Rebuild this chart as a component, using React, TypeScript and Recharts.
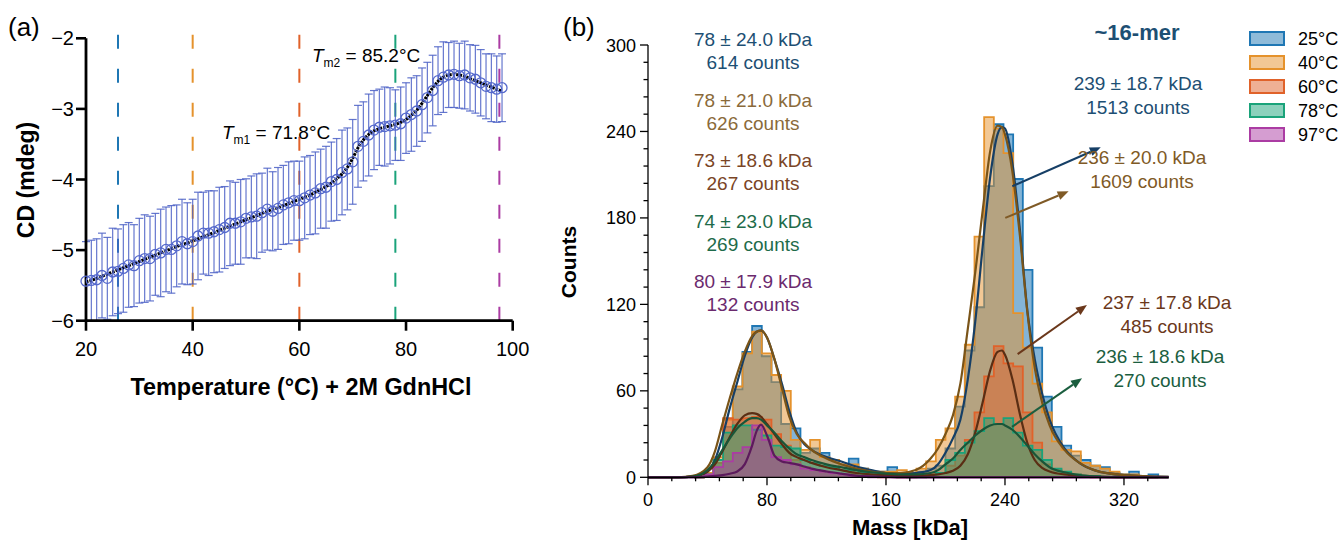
import React from 'react';
import { ComposedChart, Line, Area, XAxis, YAxis, ErrorBar, ReferenceLine } from 'recharts';

const FONT = '"Liberation Sans", Arial, Helvetica, sans-serif';

// ---------- panel (a): CD melt ----------
const temps = [20, 21, 22, 23, 24, 25, 26, 27, 28, 29, 30, 31, 32, 33, 34, 35, 36, 37, 38, 39, 40, 41, 42, 43, 44, 45, 46, 47, 48, 49, 50, 51, 52, 53, 54, 55, 56, 57, 58, 59, 60, 61, 62, 63, 64, 65, 66, 67, 68, 69, 70, 71, 72, 73, 74, 75, 76, 77, 78, 79, 80, 81, 82, 83, 84, 85, 86, 87, 88, 89, 90, 91, 92, 93, 94, 95, 96, 97, 98];
const cdValues = [-5.44, -5.43, -5.42, -5.36, -5.4, -5.31, -5.3, -5.26, -5.21, -5.22, -5.15, -5.12, -5.12, -5.06, -5.04, -4.99, -4.99, -4.94, -4.88, -4.91, -4.88, -4.8, -4.76, -4.76, -4.74, -4.71, -4.68, -4.62, -4.62, -4.6, -4.55, -4.53, -4.52, -4.47, -4.42, -4.45, -4.41, -4.36, -4.33, -4.3, -4.3, -4.26, -4.22, -4.19, -4.13, -4.11, -4.03, -4.0, -3.9, -3.85, -3.75, -3.53, -3.46, -3.37, -3.3, -3.26, -3.25, -3.24, -3.23, -3.21, -3.13, -3.08, -3.03, -2.94, -2.84, -2.74, -2.6, -2.55, -2.52, -2.51, -2.53, -2.52, -2.56, -2.58, -2.63, -2.68, -2.7, -2.72, -2.7];
const cdErrors = [0.56, 0.57, 0.58, 0.6, 0.58, 0.62, 0.6, 0.62, 0.6, 0.58, 0.6, 0.62, 0.6, 0.58, 0.62, 0.6, 0.62, 0.58, 0.6, 0.58, 0.6, 0.62, 0.58, 0.6, 0.58, 0.6, 0.58, 0.6, 0.58, 0.6, 0.56, 0.58, 0.6, 0.56, 0.58, 0.56, 0.58, 0.56, 0.58, 0.56, 0.56, 0.58, 0.56, 0.58, 0.56, 0.58, 0.56, 0.58, 0.6, 0.58, 0.6, 0.58, 0.56, 0.58, 0.56, 0.54, 0.56, 0.54, 0.5, 0.52, 0.5, 0.52, 0.5, 0.52, 0.5, 0.5, 0.48, 0.5, 0.46, 0.47, 0.46, 0.48, 0.47, 0.48, 0.47, 0.46, 0.48, 0.47, 0.48];
const cdFit = [-5.45, -5.43, -5.4, -5.37, -5.34, -5.31, -5.28, -5.25, -5.22, -5.19, -5.16, -5.13, -5.1, -5.07, -5.04, -5.01, -4.98, -4.95, -4.92, -4.9, -4.87, -4.84, -4.81, -4.78, -4.75, -4.72, -4.69, -4.66, -4.63, -4.6, -4.57, -4.54, -4.51, -4.48, -4.45, -4.42, -4.4, -4.37, -4.34, -4.31, -4.28, -4.25, -4.22, -4.18, -4.14, -4.1, -4.05, -3.99, -3.92, -3.83, -3.7, -3.55, -3.44, -3.36, -3.31, -3.28, -3.26, -3.24, -3.22, -3.19, -3.15, -3.09, -3.02, -2.92, -2.81, -2.7, -2.61, -2.55, -2.52, -2.51, -2.52, -2.54, -2.57, -2.6, -2.63, -2.66, -2.69, -2.72, -2.75];
const tempTicks = [20, 40, 60, 80, 100];
const cdTicks = [-6, -5, -4, -3, -2];
const markerTemps = [26, 40, 60, 78, 97.5];

// ---------- panel (b): mass photometry ----------
const seriesNames = ['25°C', '40°C', '60°C', '78°C', '97°C'];
const seriesColors = ['#1f77b4', '#e5922c', '#e0622a', '#1aa37a', '#ab3ca3'];
const fitColors = ['#163f66', '#7a5418', '#5a2e14', '#1a5538', '#5c1a5c'];

const binEdges = [31, 37.5, 44, 50.5, 57, 63.5, 70, 76.5, 83, 89.5, 96, 102.5, 109, 115.5, 122, 128.5, 135, 141.5, 148, 154.5, 161, 167.5, 174, 180.5, 187, 193.5, 200, 206.5, 213, 219.5, 226, 232.5, 239, 245.5, 252, 258.5, 265, 271.5, 278, 284.5, 291, 297.5, 304, 310.5, 317, 323.5, 330, 336.5, 343];
const c25 = [0, 2, 10, 35, 61, 87, 105, 84, 66, 37, 34, 17, 20, 17, 12, 8, 13, 6, 4, 4, 7, 3, 2, 4, 6, 8, 20, 49, 88, 118, 202, 245, 238, 207, 144, 90, 56, 35, 22, 15, 12, 8, 7, 3, 2, 4, 1, 2, 0];
const c40 = [0, 3, 14, 40, 63, 86, 101, 86, 71, 60, 26, 19, 26, 14, 12, 9, 9, 6, 4, 4, 4, 5, 3, 6, 11, 26, 34, 56, 92, 167, 250, 242, 225, 114, 90, 65, 45, 25, 19, 18, 10, 8, 6, 4, 2, 2, 1, 0, 0];
const c60 = [0, 1, 10, 41, 40, 41, 42, 40, 30, 22, 12, 7, 5, 4, 3, 2, 2, 1, 1, 0, 1, 0, 0, 1, 2, 3, 8, 15, 26, 45, 70, 91, 79, 77, 45, 24, 9, 5, 3, 2, 1, 0, 0, 0, 0, 0, 0, 0, 0];
const c78 = [0, 2, 12, 31, 36, 36, 33, 29, 22, 21, 20, 12, 10, 8, 7, 5, 5, 3, 2, 1, 1, 1, 0, 0, 1, 3, 12, 17, 24, 32, 41, 37, 41, 31, 22, 19, 12, 6, 4, 2, 1, 1, 0, 0, 0, 0, 0, 0, 0];
const c97 = [0, 2, 7, 11, 17, 21, 36, 26, 14, 12, 9, 6, 5, 4, 3, 2, 1, 1, 0, 0, 0, 0, 0, 0, 0, 0, 0, 0, 0, 0, 0, 0, 0, 0, 0, 0, 0, 0, 0, 0, 0, 0, 0, 0, 0, 0, 0, 0, 0];

const fitMass = [0, 20, 30, 40, 45, 50, 55, 60, 65, 70, 73, 76, 80, 85, 90, 95, 100, 105, 110, 120, 130, 140, 150, 160, 170, 180, 190, 195, 200, 205, 210, 215, 220, 225, 230, 235, 238, 240, 245, 250, 255, 260, 265, 270, 280, 290, 300, 320, 350];
const f25 = [0, 0, 0.5, 4, 12, 28, 48, 66, 84, 97, 101, 102, 97, 82, 65, 46, 31, 23, 19, 14, 11, 7.5, 5, 3, 2.5, 3, 5, 9, 17, 27, 40, 68, 108, 160, 208, 238, 243, 242, 218, 172, 116, 82, 58, 40, 20, 10, 5, 1.5, 0.3];
const f40 = [0, 0, 1, 7, 18, 37, 55, 72, 87, 98, 101, 102, 97, 82, 62, 42, 30, 24, 19, 13, 9, 6, 4, 3, 3, 5, 13, 20, 30, 43, 65, 103, 142, 185, 226, 244, 243, 238, 212, 168, 115, 76, 52, 36, 19, 10, 5, 1.5, 0.3];
const f60 = [0, 0, 0.5, 4, 9, 18, 28, 37, 43, 44.5, 44, 42, 37, 30, 23, 17, 14, 12, 10, 7, 5, 3, 2, 1.5, 1, 1, 1.5, 2, 3, 4.5, 8, 16, 31, 52, 74, 87, 88, 85, 68, 44, 24, 12, 6.5, 4, 2, 1, 0.5, 0, 0];
const f78 = [0, 0, 0.5, 5, 11, 19, 27, 34, 38.5, 41, 41, 40, 36, 31, 25, 20, 16, 14, 12, 9, 7, 5, 3.5, 2.5, 2, 2, 3, 5, 9, 13, 19, 24, 29, 33, 36, 37, 37, 36, 33, 28, 22, 16, 11, 7, 3.5, 1.5, 0.7, 0.2, 0];
const f97 = [0, 0, 0, 0.5, 1, 1.5, 2.5, 4, 9, 22, 32, 36.5, 29, 15, 11, 10, 9, 7.5, 6, 4, 2.5, 1.2, 0.6, 0.3, 0, 0, 0, 0, 0, 0, 0, 0, 0, 0, 0, 0, 0, 0, 0, 0, 0, 0, 0, 0, 0, 0, 0, 0, 0];

const massTicks = [0, 16, 32, 48, 64, 80, 96, 112, 128, 144, 160, 176, 192, 208, 224, 240, 256, 272, 288, 304, 320, 336];
const massLabels = [0, 80, 160, 240, 320];
const countTicks = [0, 12, 24, 36, 48, 60, 72, 84, 96, 108, 120, 132, 144, 156, 168, 180, 192, 204, 216, 228, 240, 252, 264, 276, 288, 300];
const countLabels = [0, 60, 120, 180, 240, 300];

// arrows (kDa, counts) from peak to label
const arrows = [
  { x1: 244.9, y1: 202, x2: 304.4, y2: 229, color: '#163f66' },
  { x1: 240.2, y1: 180, x2: 282.8, y2: 198.5, color: '#7f5a26' },
  { x1: 248.5, y1: 85.5, x2: 295.1, y2: 119.5, color: '#6b381b' },
  { x1: 244.7, y1: 35, x2: 291.8, y2: 68.7, color: '#1b5e3f' },
];

const leftStats = [
  { a: '78 ± 24.0 kDa', b: '614 counts', color: '#1d4f73' },
  { a: '78 ± 21.0 kDa', b: '626 counts', color: '#8a6a3a' },
  { a: '73 ± 18.6 kDa', b: '267 counts', color: '#7a4526' },
  { a: '74 ± 23.0 kDa', b: '269 counts', color: '#1e6b4a' },
  { a: '80 ± 17.9 kDa', b: '132 counts', color: '#6b2a6e' },
];
const rightStats = [
  { a: '239 ± 18.7 kDa', b: '1513 counts', color: '#1d4f73', x: 1138, y: 83 },
  { a: '236 ± 20.0 kDa', b: '1609 counts', color: '#7f5a26', x: 1142, y: 157 },
  { a: '237 ± 17.8 kDa', b: '485 counts', color: '#6b381b', x: 1167, y: 302 },
  { a: '236 ± 18.6 kDa', b: '270 counts', color: '#1b5e3f', x: 1160, y: 356 },
];

const cdRows = temps.map((t, i) => ({ t, cd: cdValues[i], err: cdErrors[i], fit: cdFit[i] }));
const histRows = binEdges.map((m, i) => ({ m, c25: c25[i], c40: c40[i], c60: c60[i], c78: c78[i], c97: c97[i] }));
const fitRows = fitMass.map((m, i) => ({ m, f25: f25[i], f40: f40[i], f60: f60[i], f78: f78[i], f97: f97[i] }));
const histKeys = ['c25', 'c40', 'c60', 'c78', 'c97'];
const fitKeys = ['f25', 'f40', 'f60', 'f78', 'f97'];
const fillOpacity = [0.55, 0.5, 0.5, 0.45, 0.45];

const minus = (v: number) => (v < 0 ? '\u2212' + Math.abs(v) : String(v));

const TickAX = (p: any) => (
  <g>
    <line x1={p.x} x2={p.x} y1={p.y} y2={p.y + 10} stroke="#000" strokeWidth={2.6} />
    <text x={p.x} y={p.y + 35} textAnchor="middle" fontSize={20} fontFamily={FONT} fill="#000">{p.payload.value}</text>
  </g>
);
const TickAY = (p: any) => (
  <g>
    <line x1={p.x - 10} x2={p.x} y1={p.y} y2={p.y} stroke="#000" strokeWidth={2.6} />
    <text x={p.x - 12} y={p.y + 7} textAnchor="end" fontSize={20} fontFamily={FONT} fill="#000">{minus(p.payload.value)}</text>
  </g>
);
const TickBX = (p: any) => {
  const major = massLabels.includes(p.payload.value);
  return (
    <g>
      <line x1={p.x} x2={p.x} y1={p.y} y2={p.y + (major ? 8 : 4)} stroke="#000" strokeWidth={1.3} />
      {major && <text x={p.x} y={p.y + 29} textAnchor="middle" fontSize={18} fontFamily={FONT} fill="#000">{p.payload.value}</text>}
    </g>
  );
};
const TickBY = (p: any) => {
  const major = countLabels.includes(p.payload.value);
  return (
    <g>
      <line x1={p.x - (major ? 8 : 4.5)} x2={p.x} y1={p.y} y2={p.y} stroke="#000" strokeWidth={1.3} />
      {major && <text x={p.x - 12} y={p.y + 6.5} textAnchor="end" fontSize={18} fontFamily={FONT} fill="#000">{p.payload.value}</text>}
    </g>
  );
};

const arrowShape = (color: string) => (p: any) => {
  const x1 = Number(p.x1), y1 = Number(p.y1), x2 = Number(p.x2), y2 = Number(p.y2);
  const ang = Math.atan2(y2 - y1, x2 - x1);
  const L = 11, W = 4.5;
  const bx = x2 - L * Math.cos(ang), by = y2 - L * Math.sin(ang);
  const pts = `${x2},${y2} ${bx - W * Math.sin(ang)},${by + W * Math.cos(ang)} ${bx + W * Math.sin(ang)},${by - W * Math.cos(ang)}`;
  return (
    <g>
      <line x1={x1} y1={y1} x2={bx} y2={by} stroke={color} strokeWidth={2} />
      <polygon points={pts} fill={color} />
    </g>
  );
};

const CircleDot = (p: any) => (
  <circle key={p.index} cx={p.cx} cy={p.cy} r={5} fill="none" stroke="#5468cc" strokeWidth={1.3} />
);

export default function App() {
  return (
    <div style={{ position: 'absolute', left: 0, top: 0, width: 1339, height: 544, background: '#fff', fontFamily: FONT }}>
      <div style={{ position: 'absolute', left: 0, top: 0 }}>
        <ComposedChart width={540} height={420} data={cdRows} margin={{ top: 38.3, right: 27.3, bottom: 59.3, left: 0 }}>
          <XAxis type="number" dataKey="t" domain={[20, 100]} ticks={tempTicks} interval={0} height={40}
            tickSize={0} tickMargin={0} tickLine={false} axisLine={{ stroke: '#000', strokeWidth: 2.8 }} tick={TickAX} />
          <YAxis type="number" domain={[-6, -2]} ticks={cdTicks} interval={0} width={86}
            tickSize={0} tickMargin={0} tickLine={false} axisLine={{ stroke: '#000', strokeWidth: 2.8 }} tick={TickAY} />
          {markerTemps.map((t, i) => (
            <ReferenceLine key={t} segment={[{ x: t, y: -6 }, { x: t, y: -1.9 }]} ifOverflow="visible"
              stroke={seriesColors[i]} strokeWidth={2} strokeDasharray="14 20" />
          ))}
          <Line dataKey="cd" stroke="none" dot={CircleDot} activeDot={false} isAnimationActive={false}>
            <ErrorBar dataKey="err" direction="y" width={4} stroke="#4a5fc5" strokeWidth={1.2} strokeOpacity={0.85} isAnimationActive={false} />
          </Line>
          <Line dataKey="fit" type="monotone" stroke="#000" strokeWidth={3} strokeDasharray="2.5 1" dot={false} activeDot={false} isAnimationActive={false} />
        </ComposedChart>
      </div>

      <div style={{ position: 'absolute', left: 560, top: 0 }}>
        <ComposedChart width={779} height={544} data={histRows} margin={{ top: 45, right: 170.4, bottom: 26.7, left: 0 }}>
          <XAxis type="number" dataKey="m" domain={[0, 350]} ticks={massTicks} interval={0} height={40}
            tickSize={0} tickMargin={0} tickLine={false} axisLine={{ stroke: '#000', strokeWidth: 1.3 }} tick={TickBX} />
          <YAxis type="number" domain={[0, 300]} ticks={countTicks} interval={0} width={88}
            tickSize={0} tickMargin={0} tickLine={false} axisLine={{ stroke: '#000', strokeWidth: 1.3 }} tick={TickBY} />
          {histKeys.map((k, i) => (
            <Area key={k} dataKey={k} type="stepAfter" stroke={seriesColors[i]} strokeWidth={1.8}
              fill={seriesColors[i]} fillOpacity={fillOpacity[i]} dot={false} activeDot={false} isAnimationActive={false} />
          ))}
          {fitKeys.map((k, i) => (
            <Line key={k} data={fitRows} dataKey={k} type="monotone" stroke={fitColors[i]} strokeWidth={2.2}
              dot={false} activeDot={false} isAnimationActive={false} />
          ))}
          {arrows.map((a, i) => (
            <ReferenceLine key={i} segment={[{ x: a.x1, y: a.y1 }, { x: a.x2, y: a.y2 }]} ifOverflow="visible"
              stroke={a.color} shape={arrowShape(a.color)} />
          ))}
        </ComposedChart>
      </div>

      <svg width={1339} height={544} style={{ position: 'absolute', left: 0, top: 0, pointerEvents: 'none' }} fontFamily={FONT}>
        <text x={8} y={36} fontSize={26} fill="#000">(a)</text>
        <text x={563} y={36} fontSize={26} fill="#000">(b)</text>

        <text x={222} y={139} fontSize={19} fill="#000">
          <tspan fontStyle="italic">T</tspan>
          <tspan fontSize={12} dy={5}>m1</tspan>
          <tspan dy={-5}> = 71.8°C</tspan>
        </text>
        <text x={312} y={62} fontSize={19} fill="#000">
          <tspan fontStyle="italic">T</tspan>
          <tspan fontSize={12} dy={5}>m2</tspan>
          <tspan dy={-5}> = 85.2°C</tspan>
        </text>

        <text x={301} y={395} fontSize={23.4} fontWeight="bold" textAnchor="middle" fill="#000">Temperature (°C) + 2M GdnHCl</text>
        <text transform="translate(34,180) rotate(-90)" fontSize={23} fontWeight="bold" textAnchor="middle" fill="#000">CD (mdeg)</text>

        <text x={910} y={535} fontSize={22} fontWeight="bold" textAnchor="middle" fill="#000">Mass [kDa]</text>
        <text transform="translate(576,262) rotate(-90)" fontSize={21} fontWeight="bold" textAnchor="middle" fill="#000">Counts</text>

        {leftStats.map((s, i) => (
          <g key={i}>
            <text x={753} y={46 + i * 60.5} fontSize={19} textAnchor="middle" fill={s.color}>{s.a}</text>
            <text x={753} y={69 + i * 60.5} fontSize={19} textAnchor="middle" fill={s.color}>{s.b}</text>
          </g>
        ))}
        <text x={1137} y={40} fontSize={22} fontWeight="bold" textAnchor="middle" fill="#1d4f73">~16-mer</text>
        {rightStats.map((s, i) => (
          <g key={i}>
            <text x={s.x} y={s.y + 7} fontSize={19} textAnchor="middle" fill={s.color}>{s.a}</text>
            <text x={s.x} y={s.y + 31} fontSize={19} textAnchor="middle" fill={s.color}>{s.b}</text>
          </g>
        ))}

        {seriesNames.map((n, i) => (
          <g key={n}>
            <rect x={1250} y={32 + i * 24} width={34} height={13} fill={seriesColors[i]} fillOpacity={0.5}
              stroke={seriesColors[i]} strokeWidth={2} />
            <text x={1298} y={45 + i * 24} fontSize={18} fill="#000">{n}</text>
          </g>
        ))}
      </svg>
    </div>
  );
}
